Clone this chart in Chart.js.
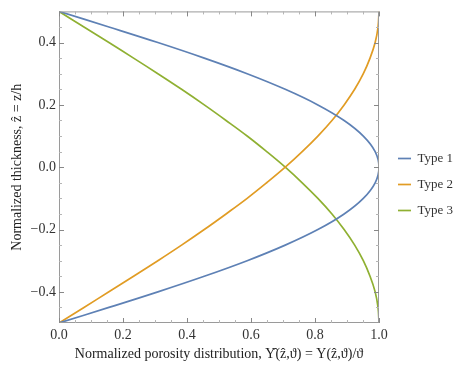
<!DOCTYPE html>
<html>
<head>
<meta charset="utf-8">
<script src="https://cdn.jsdelivr.net/npm/chart.js@4.4.1/dist/chart.umd.min.js"></script>
<style>
  html, body { margin: 0; padding: 0; background: #fff; }
  #wrap { width: 460px; height: 371px; }
</style>
</head>
<body>
<div id="wrap"><canvas id="porosityChart" width="460" height="371"></canvas></div>
<script>
// thickness coordinate z/h
let zValues = [-0.5, -0.45, -0.4, -0.35, -0.3, -0.25, -0.2, -0.15, -0.1, -0.05, 0,
  0.05, 0.1, 0.15, 0.2, 0.25, 0.3, 0.35, 0.4, 0.45, 0.5];

// normalized porosity for each distribution type
let type1 = [0, 0.156, 0.309, 0.454, 0.588, 0.707, 0.809, 0.891, 0.951, 0.988, 1,
  0.988, 0.951, 0.891, 0.809, 0.707, 0.588, 0.454, 0.309, 0.156, 0];
let type2 = [0, 0.078, 0.156, 0.233, 0.309, 0.383, 0.454, 0.522, 0.588, 0.649, 0.707,
  0.760, 0.809, 0.853, 0.891, 0.924, 0.951, 0.972, 0.988, 0.997, 1];
let type3 = [1, 0.997, 0.988, 0.972, 0.951, 0.924, 0.891, 0.853, 0.809, 0.760, 0.707,
  0.649, 0.588, 0.522, 0.454, 0.383, 0.309, 0.233, 0.156, 0.078, 0];

let seriesNames = ["Type 1", "Type 2", "Type 3"];
let seriesColors = ["#5e81b5", "#e19c24", "#8fb032"];

let xTicks = [0, 0.2, 0.4, 0.6, 0.8, 1.0];
let yTicks = [-0.4, -0.2, 0, 0.2, 0.4];
let xMinor = [0.05, 0.1, 0.15, 0.25, 0.3, 0.35, 0.45, 0.5, 0.55, 0.65, 0.7, 0.75, 0.85, 0.9, 0.95];
let yMinor = [-0.45, -0.35, -0.3, -0.25, -0.15, -0.1, -0.05, 0.05, 0.1, 0.15, 0.25, 0.3, 0.35, 0.45];

let serif = "'Liberation Serif', 'Times New Roman', serif";

function fmt(v) {
  let s = Math.abs(v).toFixed(1);
  return v < -1e-9 ? "\u2212" + s : s;
}

function points(xs) {
  return zValues.map((z, i) => ({ x: xs[i], y: z }));
}

// frame around the plot plus inward ticks on every side
let framePlugin = {
  id: "frame",
  afterDatasetsDraw(chart) {
    let ctx = chart.ctx;
    let a = chart.chartArea;
    let xs = chart.scales.x, ys = chart.scales.y;
    ctx.save();
    ctx.lineWidth = 1;
    ctx.strokeStyle = "#9a9a9a";
    ctx.strokeRect(a.left + 0.5, a.top + 0.5, a.right - a.left - 1, a.bottom - a.top - 1);

    let tick = (vals, len, color) => {
      ctx.strokeStyle = color;
      ctx.beginPath();
      vals.x.forEach(v => {
        let px = Math.round(xs.getPixelForValue(v)) + 0.5;
        ctx.moveTo(px, a.bottom); ctx.lineTo(px, a.bottom - len);
        ctx.moveTo(px, a.top); ctx.lineTo(px, a.top + len);
      });
      vals.y.forEach(v => {
        let py = Math.round(ys.getPixelForValue(v)) + 0.5;
        ctx.moveTo(a.left, py); ctx.lineTo(a.left + len, py);
        ctx.moveTo(a.right, py); ctx.lineTo(a.right - len, py);
      });
      ctx.stroke();
    };
    tick({ x: xTicks, y: yTicks }, 5, "#888");
    tick({ x: xMinor, y: yMinor }, 3, "#b5b5b5");
    ctx.restore();
  }
};

let ctx = document.getElementById("porosityChart");
let chart = new Chart(ctx, {
  type: "line",
  data: {
    datasets: [type1, type2, type3].map((d, i) => ({
      label: seriesNames[i],
      data: points(d),
      borderColor: seriesColors[i],
      backgroundColor: seriesColors[i],
      borderWidth: 1.7,
      pointRadius: 0,
      tension: 0.4,
      fill: false
    }))
  },
  options: {
    responsive: false,
    animation: false,
    layout: { padding: { top: 4, right: 0, left: 0, bottom: 6 } },
    plugins: {
      tooltip: { enabled: false },
      legend: {
        position: "right",
        maxWidth: 75,
        labels: {
          usePointStyle: true,
          pointStyle: "line",
          pointStyleWidth: 13,
          padding: 13,
          color: "#333",
          font: { family: serif, size: 13 }
        }
      }
    },
    scales: {
      x: {
        type: "linear",
        min: 0,
        max: 1,
        afterBuildTicks: s => { s.ticks = xTicks.map(v => ({ value: v })); },
        afterFit: s => { s.height = 42; },
        grid: { display: false, drawTicks: false },
        border: { display: false },
        ticks: {
          padding: 4,
          color: "#333",
          font: { family: serif, size: 14 },
          callback: v => fmt(v)
        },
        title: {
          display: true,
          text: "Normalized porosity distribution, \u03A5\u0302(\u1E91,\u03D1) = \u03A5(\u1E91,\u03D1)/\u03D1",
          color: "#222",
          font: { family: serif, size: 14 },
          padding: { top: 0, bottom: 2 }
        }
      },
      y: {
        type: "linear",
        min: -0.5,
        max: 0.5,
        afterBuildTicks: s => { s.ticks = yTicks.map(v => ({ value: v })); },
        afterFit: s => { s.width = 59; },
        grid: { display: false, drawTicks: false },
        border: { display: false },
        ticks: {
          padding: 3,
          color: "#333",
          font: { family: serif, size: 14 },
          callback: v => fmt(v)
        },
        title: {
          display: true,
          text: "Normalized thickness, \u1E91 = z/h",
          color: "#222",
          font: { family: serif, size: 14 },
          padding: { top: 9, bottom: 0 }
        }
      },
      // empty strip between the plot and the legend
      gap: {
        axis: "y",
        position: "right",
        display: true,
        grid: { display: false, drawTicks: false },
        border: { display: false },
        ticks: { display: false },
        afterFit: s => { s.width = 6; }
      }
    }
  },
  plugins: [framePlugin]
});
</script>
</body>
</html>
